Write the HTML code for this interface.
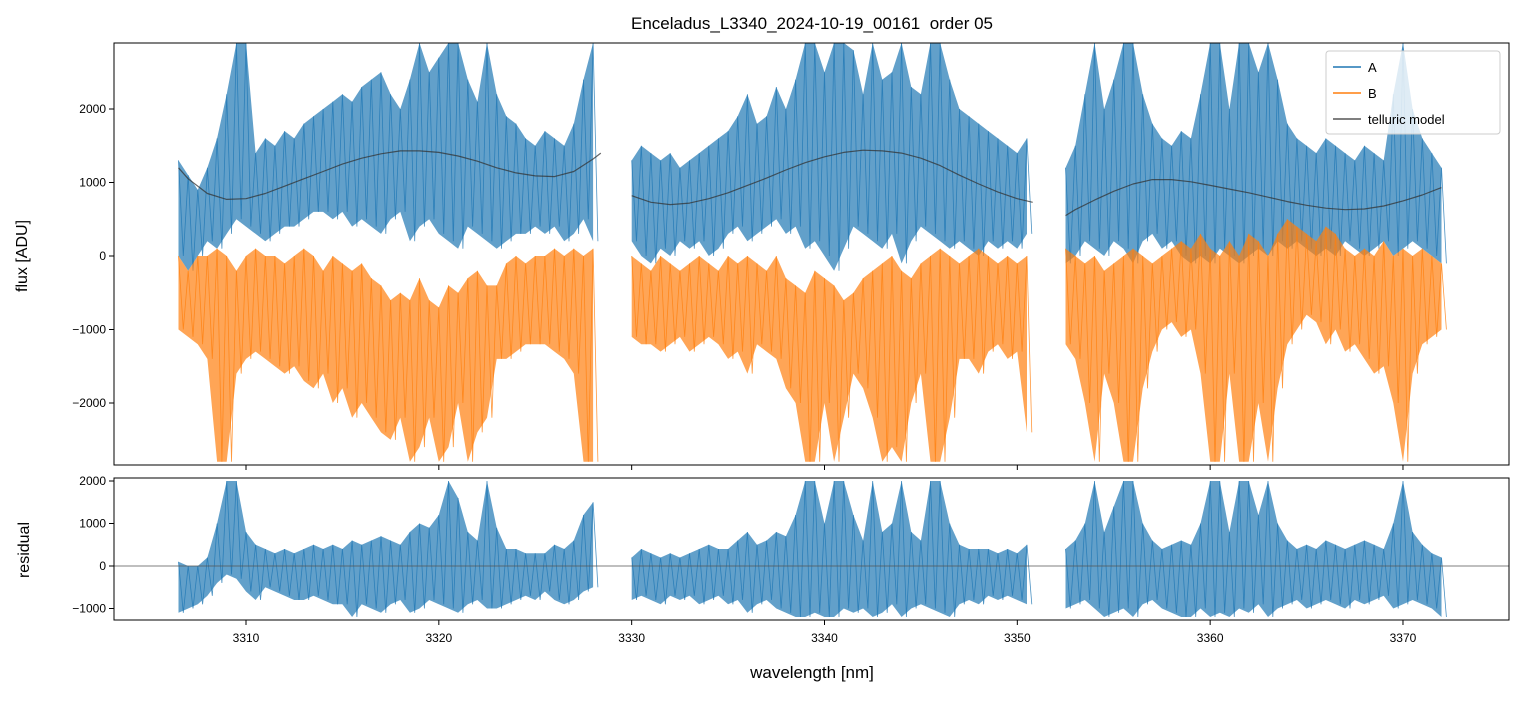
<!DOCTYPE html>
<html><head><meta charset="utf-8"><style>
body{margin:0;background:#fff;}
svg text{font-family:"Liberation Sans","DejaVu Sans",sans-serif;fill:#000;}
</style></head><body>
<svg id="chart" width="1523" height="696" xmlns="http://www.w3.org/2000/svg">
<defs>
<clipPath id="c1"><rect x="114" y="43" width="1395" height="422"/></clipPath>
<clipPath id="c2"><rect x="114" y="478" width="1395" height="142"/></clipPath>
</defs>
<rect width="1523" height="696" fill="#fff"/>
<text x="812" y="29" font-size="17" text-anchor="middle">Enceladus_L3340_2024-10-19_00161&#160; order 05</text>
<g id="topg" clip-path="url(#c1)"></g>
<g id="botg" clip-path="url(#c2)"></g>
<g id="axes"></g>
<text transform="translate(27,256) rotate(-90)" font-size="16" text-anchor="middle">flux [ADU]</text>
<text transform="translate(29,550) rotate(-90)" font-size="16" text-anchor="middle">residual</text>
<text x="812" y="678" font-size="17" text-anchor="middle">wavelength [nm]</text>
<g>
<rect x="1326" y="51" width="174" height="83" fill="#fff" fill-opacity="0.8" stroke="#ccc" rx="3"/>
<line x1="1333" y1="67" x2="1361" y2="67" stroke="#1f77b4" stroke-width="1.5"/>
<text x="1368" y="72" font-size="13">A</text>
<line x1="1333" y1="93" x2="1361" y2="93" stroke="#ff7f0e" stroke-width="1.5"/>
<text x="1368" y="98" font-size="13">B</text>
<line x1="1333" y1="119" x2="1361" y2="119" stroke="#555" stroke-width="1.5"/>
<text x="1368" y="124" font-size="13">telluric model</text>
</g>
</svg>
<script>
// segment starts (nm), bin step 0.5 nm; values in units of 100 ADU
const segStarts=[3306.5,3330,3352.5];
const aHi=[[13,11,9,12,16,22,29,29,14,16,15,17,16,18,19,20,21,22,21,23,24,25,22,20,24,29,25,27,29,29,24,21,29,22,19,18,16,15,17,16,15,18,24,29],
[13,15,14,13,14,12,13,14,15,16,17,19,22,18,19,23,20,24,29,29,25,29,29,28,22,29,24,25,29,23,22,29,29,24,20,19,18,17,16,15,14,16],
[12,15,22,29,20,24,29,29,22,18,16,15,17,16,22,29,29,20,29,29,25,29,24,18,16,15,14,16,15,14,13,15,14,13,22,29,20,16,14,12]];
const aLo=[[0,-2,0,2,1,3,5,4,3,2,3,4,4,5,6,6,5,6,4,5,4,3,5,6,2,4,5,3,2,1,4,3,2,1,2,3,3,4,3,4,2,3,5,2],
[2,0,-1,1,0,2,1,2,0,1,3,4,2,3,4,5,3,4,1,2,0,-2,1,4,3,2,1,3,-1,2,4,3,2,1,2,1,0,2,1,2,1,3],
[-1,0,2,1,0,2,1,-1,2,3,1,2,0,-1,0,-1,1,0,-1,0,1,0,2,1,2,1,0,1,0,2,1,0,1,2,0,1,2,1,0,-1]];
const bHi=[[0,-2,0,0,1,0,-2,0,1,0,0,-1,0,1,0,-2,0,-1,-2,-1,-3,-4,-6,-5,-6,-3,-6,-7,-4,-5,-3,-2,-4,-4,-1,0,-1,0,0,1,0,1,0,1],
[0,-1,-2,0,-1,-2,-1,0,-1,-2,0,-1,0,-1,-2,0,-3,-4,-5,-2,-3,-4,-6,-5,-3,-2,-1,0,-2,-3,-1,0,1,0,-1,0,1,0,-1,0,-1,0],
[1,0,-1,0,-2,-1,0,1,0,-1,0,1,2,1,3,1,0,2,0,3,2,0,3,5,4,3,2,4,3,1,0,1,0,2,0,1,0,1,0,-1]];
const bLo=[[-10,-11,-12,-14,-28,-28,-16,-14,-13,-14,-15,-16,-15,-17,-18,-16,-20,-18,-22,-20,-22,-24,-25,-22,-28,-26,-22,-28,-26,-20,-28,-24,-22,-14,-14,-13,-12,-12,-12,-13,-14,-16,-28,-28],
[-11,-12,-12,-13,-12,-11,-13,-12,-11,-12,-14,-13,-16,-12,-13,-14,-18,-20,-28,-28,-20,-28,-22,-16,-18,-22,-28,-26,-28,-20,-16,-28,-28,-22,-14,-14,-16,-13,-12,-14,-13,-24],
[-12,-14,-20,-28,-16,-20,-28,-28,-18,-13,-10,-9,-11,-10,-16,-28,-28,-16,-28,-28,-20,-28,-18,-12,-10,-8,-9,-12,-10,-13,-12,-14,-16,-15,-20,-28,-16,-12,-11,-10]];
const rHi=[[1,0,0,2,10,20,20,8,5,4,3,4,3,4,5,4,5,4,6,5,6,7,6,5,8,10,9,12,20,16,8,6,20,9,4,4,3,3,3,5,4,6,12,15],
[2,4,3,2,3,2,3,4,5,4,4,6,8,5,6,8,7,12,20,20,10,20,20,12,6,20,8,10,20,8,6,20,20,10,5,4,4,4,3,4,3,5],
[4,6,10,20,8,14,20,20,10,6,4,5,6,5,10,20,20,8,20,20,12,20,10,6,4,5,4,6,5,4,5,6,5,4,10,20,8,5,3,2]];
const rLo=[[-11,-10,-9,-7,-4,-2,-3,-6,-8,-5,-6,-7,-8,-8,-7,-8,-9,-9,-12,-9,-10,-11,-9,-8,-11,-10,-8,-9,-10,-11,-9,-8,-10,-10,-9,-8,-7,-8,-6,-8,-9,-8,-6,-5],
[-8,-7,-8,-9,-7,-8,-7,-9,-8,-7,-9,-8,-11,-9,-8,-10,-11,-12,-12,-11,-12,-12,-10,-11,-10,-12,-11,-9,-12,-10,-9,-10,-11,-12,-9,-8,-9,-7,-8,-7,-8,-9],
[-10,-9,-8,-10,-12,-11,-10,-12,-9,-8,-10,-11,-12,-12,-10,-12,-11,-12,-10,-11,-9,-12,-10,-9,-8,-10,-9,-8,-9,-10,-8,-9,-8,-7,-10,-9,-8,-9,-10,-12]];
const modelW=[[3306.5,3307,3308,3309,3310,3311,3312,3313,3314,3315,3316,3317,3318,3319,3320,3321,3322,3323,3324,3325,3326,3327,3328,3328.4],
[3330,3331,3332,3333,3334,3335,3336,3337,3338,3339,3340,3341,3342,3343,3344,3345,3346,3347,3348,3349,3350,3350.8],
[3352.5,3353,3354,3355,3356,3357,3358,3359,3360,3361,3362,3363,3364,3365,3366,3367,3368,3369,3370,3371,3372]];
const modelV=[[12,10.5,8.5,7.7,7.8,8.5,9.5,10.5,11.5,12.5,13.3,13.9,14.3,14.3,14.1,13.6,12.9,12.0,11.3,10.9,10.8,11.5,13.2,14],
[8.2,7.3,7.0,7.2,7.8,8.6,9.6,10.6,11.7,12.7,13.5,14.1,14.4,14.3,14.0,13.3,12.3,11.0,9.8,8.7,7.8,7.3],
[5.5,6.3,7.6,8.8,9.8,10.4,10.4,10.1,9.6,9.1,8.6,8.0,7.4,6.9,6.5,6.3,6.4,6.8,7.5,8.3,9.3]];
const xTicks=[3310,3320,3330,3340,3350,3360,3370];
const yTicksTop=[2000,1000,0,-1000,-2000];
const yTicksBot=[2000,1000,0,-1000];

const NS='http://www.w3.org/2000/svg';
const X=w=>246+(w-3310)*19.283;
const Yt=v=>256-v*0.0735;
const Yb=v=>566-v*0.0425;
function mk(tag,attrs,parent){const e=document.createElementNS(NS,tag);for(const k in attrs)e.setAttribute(k,attrs[k]);parent.appendChild(e);return e;}
const gTop=document.getElementById('topg'),gBot=document.getElementById('botg'),gAxes=document.getElementById('axes');
function band(hiA,loA,Y,color,parent,name){
  for(let s=0;s<3;s++){
    const n=Math.min(hiA[s].length,loA[s].length);let up=[],dn=[],zz=[];
    for(let i=0;i<n;i++){const w=segStarts[s]+i*0.5;
      up.push(X(w).toFixed(1)+','+Y(hiA[s][i]*100).toFixed(1));
      dn.unshift(X(w).toFixed(1)+','+Y(loA[s][i]*100).toFixed(1));
      zz.push(X(w).toFixed(1)+','+Y(hiA[s][i]*100).toFixed(1));
      zz.push(X(w+0.25).toFixed(1)+','+Y(loA[s][i]*100).toFixed(1));}
    const p=mk('polygon',{points:up.concat(dn).join(' '),fill:color,'fill-opacity':0.7,stroke:'none'},parent);
    
    
    const l=mk('polyline',{points:zz.join(' '),fill:'none',stroke:color,'stroke-opacity':0.8,'stroke-width':0.8},parent);
    
    
  }
}
band(aHi,aLo,Yt,'#1f77b4',gTop,'series-a');
band(bHi,bLo,Yt,'#ff7f0e',gTop,'series-b');
for(let s=0;s<3;s++){
  const pts=modelW[s].map((w,i)=>X(w).toFixed(1)+','+Yt(modelV[s][i]*100).toFixed(1)).join(' ');
  const m=mk('polyline',{points:pts,fill:'none',stroke:'#333','stroke-opacity':0.75,'stroke-width':1.2,'stroke-linejoin':'round'},gTop);
  
  
}
band(rHi,rLo,Yb,'#1f77b4',gBot,'residual');
const z=mk('line',{x1:114,x2:1509,y1:Yb(0),y2:Yb(0),stroke:'#555','stroke-width':0.8},gBot);


const f1=mk('rect',{x:114,y:43,width:1395,height:422,fill:'none',stroke:'#000','stroke-width':1},gAxes);


const f2=mk('rect',{x:114,y:478,width:1395,height:142,fill:'none',stroke:'#000','stroke-width':1},gAxes);


xTicks.forEach(t=>{const x=X(t);
  mk('line',{x1:x,x2:x,y1:465,y2:470,stroke:'#000'},gAxes);
  mk('line',{x1:x,x2:x,y1:620,y2:625,stroke:'#000'},gAxes);
  const tx=mk('text',{x:x,y:642,'font-size':12,'text-anchor':'middle'},gAxes);tx.textContent=t;
  
  
});
yTicksTop.forEach(t=>{const y=Yt(t);
  mk('line',{x1:109,x2:114,y1:y,y2:y,stroke:'#000'},gAxes);
  const tx=mk('text',{x:106,y:y+4,'font-size':12,'text-anchor':'end'},gAxes);tx.textContent=t<0?'\u2212'+(-t):t;
  
  
});
yTicksBot.forEach(t=>{const y=Yb(t);
  mk('line',{x1:109,x2:114,y1:y,y2:y,stroke:'#000'},gAxes);
  const tx=mk('text',{x:106,y:y+4,'font-size':12,'text-anchor':'end'},gAxes);tx.textContent=t<0?'\u2212'+(-t):t;
  
  
});
</script>
</body></html>
